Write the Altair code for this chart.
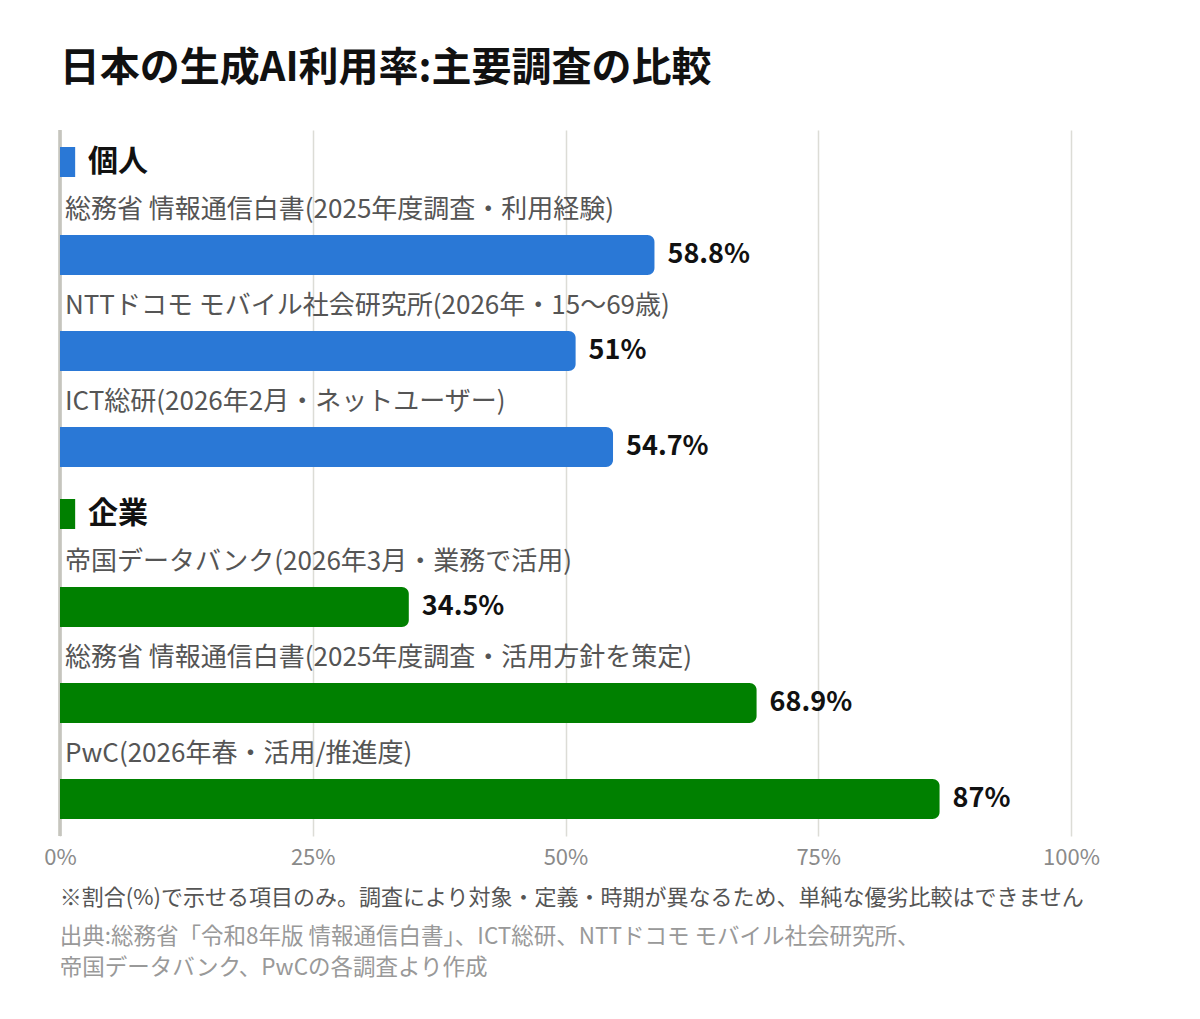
import altair as alt
import pandas as pd

title_text = "日本の生成AI利用率:主要調査の比較"
section_names = ["個人", "企業"]
section_colors = ["#2a78d6", "#008000"]
personal_labels = [
    "総務省 情報通信白書(2025年度調査・利用経験)",
    "NTTドコモ モバイル社会研究所(2026年・15〜69歳)",
    "ICT総研(2026年2月・ネットユーザー)",
]
personal_values = [58.8, 51, 54.7]
corporate_labels = [
    "帝国データバンク(2026年3月・業務で活用)",
    "総務省 情報通信白書(2025年度調査・活用方針を策定)",
    "PwC(2026年春・活用/推進度)",
]
corporate_values = [34.5, 68.9, 87]
x_ticks = [0, 25, 50, 75, 100]
note_text = "※割合(%)で示せる項目のみ。調査により対象・定義・時期が異なるため、単純な優劣比較はできません"
source_lines = [
    "出典:総務省「令和8年版 情報通信白書」、ICT総研、NTTドコモ モバイル社会研究所、",
    "帝国データバンク、PwCの各調査より作成",
]

FONT = "Noto Sans CJK JP"
W, H = 1011, 706

# layout in row units (one item row = 1 unit, header row = 2/3 unit)
groups = [
    (section_names[0], section_colors[0], personal_labels, personal_values),
    (section_names[1], section_colors[1], corporate_labels, corporate_values),
]
headers, rows = [], []
pos = 0.0
unit_px = 96.0
for name, color, labels, values in groups:
    c = pos + 1 / 3
    headers.append(dict(section=name, color=color, center=c,
                        top=c - 15 / unit_px, bottom=c + 15 / unit_px))
    pos += 2 / 3
    for lab, v in zip(labels, values):
        rows.append(dict(section=name, color=color, label=lab, value=v,
                         label_y=pos + 16 / unit_px,
                         bar_top=pos + 41 / unit_px,
                         bar_bot=pos + 81 / unit_px,
                         bar_mid=pos + 61 / unit_px,
                         value_text=f"{v:g}%"))
        pos += 1
total = pos + 2 / unit_px

hdf = pd.DataFrame(headers)
rdf = pd.DataFrame(rows)

xscale = alt.Scale(domain=[0, 100], nice=False, zero=True)
yscale = alt.Scale(domain=[0, total], reverse=True, nice=False, zero=False)
noaxis_y = alt.Axis(labels=False, ticks=False, domain=False, grid=False, title=None)

base_x = alt.X(
    "value:Q", scale=xscale, title=None,
    axis=alt.Axis(values=x_ticks, labelExpr="datum.value + '%'", grid=True,
                  gridColor="#dcdcd6", gridWidth=1.5, ticks=False, domain=False,
                  labelColor="#8a8a8a", labelFontSize=22, labelPadding=11,
                  labelFlush=False, labelFont=FONT),
)

bars = alt.Chart(rdf).mark_rect(
    cornerRadiusTopRight=7, cornerRadiusBottomRight=7
).encode(
    x=base_x,
    x2=alt.datum(0),
    y=alt.Y("bar_top:Q", scale=yscale, axis=noaxis_y),
    y2="bar_bot:Q",
    color=alt.Color("color:N", scale=None),
)

zero_rule = alt.Chart(rdf).mark_rule(color="#c6c5be", strokeWidth=2.5).encode(
    x=alt.datum(0)
)

labels = alt.Chart(rdf).mark_text(
    align="left", baseline="middle", dx=5, fontSize=26, color="#555555", font=FONT
).encode(
    x=alt.datum(0),
    y=alt.Y("label_y:Q", scale=yscale, axis=noaxis_y),
    text="label:N",
)

values = alt.Chart(rdf).mark_text(
    align="left", baseline="middle", dx=13, fontSize=27, fontWeight="bold",
    color="#111111", font=FONT
).encode(
    x=alt.X("value:Q", scale=xscale),
    y=alt.Y("bar_mid:Q", scale=yscale, axis=noaxis_y),
    text="value_text:N",
)

head_rect = alt.Chart(hdf).mark_rect().encode(
    x=alt.datum(0),
    x2=alt.datum(1.5),
    y=alt.Y("top:Q", scale=yscale, axis=noaxis_y),
    y2="bottom:Q",
    color=alt.Color("color:N", scale=None),
)

head_text = alt.Chart(hdf).mark_text(
    align="left", baseline="middle", dx=28, fontSize=30, fontWeight="bold",
    color="#111111", font=FONT
).encode(
    x=alt.datum(0),
    y=alt.Y("center:Q", scale=yscale, axis=noaxis_y),
    text="section:N",
)

main = alt.layer(zero_rule, bars, labels, values, head_rect, head_text).properties(
    width=W, height=H,
    title=alt.TitleParams(title_text, anchor="start", fontSize=40, fontWeight="bold",
                          color="#111111", font=FONT, offset=40, dx=16),
)

chart = alt.vconcat(main).properties(
    padding={"left": 35, "top": 40, "right": 20, "bottom": 20},
    title=alt.TitleParams(
        note_text, orient="bottom", anchor="start", fontSize=22, fontWeight="normal",
        color="#555555", font=FONT, offset=20, dx=16,
        subtitle=source_lines, subtitleFontSize=22.5, subtitleColor="#999999",
        subtitleFont=FONT, subtitleLineHeight=31, subtitlePadding=16,
    ),
).configure(font=FONT).configure_view(strokeWidth=0, stroke="transparent")

chart.save("out.html", embed_options={"renderer": "svg", "actions": False})
